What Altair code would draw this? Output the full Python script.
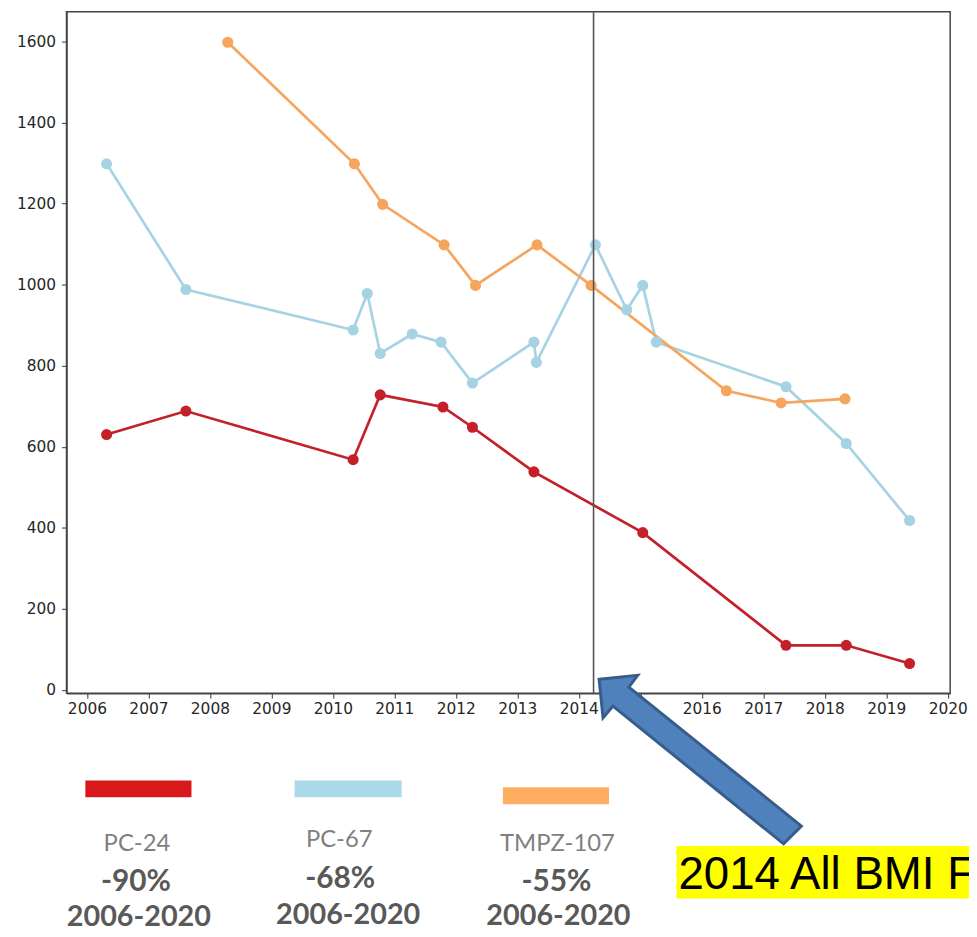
import altair as alt
import pandas as pd

# ---- data ----
pc24_year = [2006.32, 2007.61, 2010.33, 2010.77, 2011.79, 2012.27, 2013.27, 2015.04, 2017.37, 2018.35, 2019.38]
pc24_val = [630, 688, 568, 728, 698, 648, 538, 388, 110, 110, 65]

pc67_year = [2006.32, 2007.61, 2010.33, 2010.56, 2010.77, 2011.29, 2011.76, 2012.27, 2013.27, 2013.31,
             2014.27, 2014.78, 2015.04, 2015.26, 2017.37, 2018.35, 2019.38]
pc67_val = [1298, 988, 888, 978, 830, 878, 858, 757, 858, 808, 1098, 938, 998, 858, 748, 608, 418]

tmpz_year = [2008.29, 2010.35, 2010.81, 2011.81, 2012.32, 2013.32, 2014.20, 2016.40, 2017.29, 2018.33]
tmpz_val = [1598, 1298, 1198, 1098, 998, 1098, 998, 738, 708, 718]

series_names = ["PC-24", "PC-67", "TMPZ-107"]
series_pct = ["-90%", "-68%", "-55%"]
series_period = ["2006-2020", "2006-2020", "2006-2020"]
line_colors = ["#c4202a", "#a6d3e3", "#f5a55e"]
point_colors = ["#d7191c", "#abd9e9", "#fdae61"]

x_ticks = [2006 + 0.5 * i for i in range(29)]
x_hidden_label = 2015  # covered by the arrow in the reference
y_ticks = [0, 200, 400, 600, 800, 1000, 1200, 1400, 1600]
marker_year = 2014.24
annotation_text = "2014 All BMI F"

# ---- build tables ----
rows = []
for name, xs, ys in [("PC-24", pc24_year, pc24_val), ("PC-67", pc67_year, pc67_val), ("TMPZ-107", tmpz_year, tmpz_val)]:
    for i, (x, y) in enumerate(zip(xs, ys)):
        rows.append({"series": name, "year": x, "value": y, "order": i})
df = pd.DataFrame(rows)

W, H = 891, 687
xscale = alt.Scale(domain=[2005.668, 2020.04], nice=False, zero=False)
yscale = alt.Scale(domain=[-8, 1673], nice=False, zero=False)
color_scale = alt.Scale(domain=series_names, range=line_colors)
pcolor_scale = alt.Scale(domain=series_names, range=point_colors)

axis_style = dict(labelFont="DejaVu Sans", labelFontSize=15.5, labelColor="#262626",
                  tickColor="#333333", tickSize=5, tickWidth=1,
                  domainColor="#444444", domainWidth=1.5,
                  grid=False, title=None, labelOverlap=False, labelFlush=False)

x_enc = alt.X("year:Q", scale=xscale,
              axis=alt.Axis(values=x_ticks, labelPadding=4,
                            labelExpr=f"(datum.value % 1 == 0 && datum.value != {x_hidden_label}) ? format(datum.value, 'd') : ''",
                            **axis_style))
y_enc = alt.Y("value:Q", scale=yscale,
              axis=alt.Axis(values=y_ticks, format="d", labelPadding=6, **axis_style))

lines = alt.Chart(df).mark_line(strokeWidth=2.7).encode(
    x=x_enc, y=y_enc,
    color=alt.Color("series:N", scale=color_scale, legend=None),
    detail="series:N",
    order="order:Q",
)
points = alt.Chart(df).mark_point(filled=True, size=125, opacity=1).encode(
    x="year:Q", y="value:Q",
    color=alt.Color("series:N", scale=pcolor_scale, legend=None),
)

vline = alt.Chart(pd.DataFrame({"year": [marker_year]})).mark_rule(color="#555555", strokeWidth=1.6).encode(
    x="year:Q"
)

# ---- legend block under the plot (pixel positions relative to plot origin) ----
sw_x = [19, 230, 440]
sw_x2 = [126, 338, 547]
sw_y = [775, 775, 782]
name_pos = [(71, 839), (275, 835), (495, 839)]
pct_pos = [(70, 877), (276, 874), (494, 877)]
per_pos = [(73, 913), (284, 911), (496, 912)]

legend_layers = []
for i in range(3):
    legend_layers.append(
        alt.Chart(pd.DataFrame({"k": [0]})).mark_rect(color=point_colors[i]).encode(
            x=alt.value(sw_x[i]), x2=alt.value(sw_x2[i]), y=alt.value(sw_y[i]), y2=alt.value(sw_y[i] + 17)
        )
    )
    legend_layers.append(
        alt.Chart(pd.DataFrame({"t": [series_names[i]]})).mark_text(
            font="Lato", fontSize=24, color="#7f7f7f", align="center", baseline="middle"
        ).encode(x=alt.value(name_pos[i][0]), y=alt.value(name_pos[i][1]), text="t:N")
    )
    legend_layers.append(
        alt.Chart(pd.DataFrame({"t": [series_pct[i]]})).mark_text(
            font="Lato", fontSize=30, fontWeight="bold", color="#595959", align="center", baseline="middle"
        ).encode(x=alt.value(pct_pos[i][0]), y=alt.value(pct_pos[i][1]), text="t:N")
    )
    legend_layers.append(
        alt.Chart(pd.DataFrame({"t": [series_period[i]]})).mark_text(
            font="Lato", fontSize=29, fontWeight="bold", color="#595959", align="center", baseline="middle"
        ).encode(x=alt.value(per_pos[i][0]), y=alt.value(per_pos[i][1]), text="t:N")
    )

# ---- annotation: yellow box and block arrow ----
ybox = alt.Chart(pd.DataFrame({"k": [0]})).mark_rect(color="#ffff00").encode(
    x=alt.value(615), x2=alt.value(960), y=alt.value(841), y2=alt.value(894)
)
ytext = alt.Chart(pd.DataFrame({"t": [annotation_text]})).mark_text(
    font="Liberation Sans", fontSize=46, color="#000000", align="left", baseline="alphabetic"
).encode(x=alt.value(617), y=alt.value(884), text="t:N")

arrow_path = ("M -1 -0.794 L -0.618 -0.833 L -0.706 -0.716 L 1 0.657 L 0.824 0.833 "
              "L -0.863 -0.529 L -0.961 -0.412 Z")
arrow = alt.Chart(pd.DataFrame({"k": [0]})).mark_point(
    shape=arrow_path, filled=True, fill="#4f81bd", stroke="#385d8a", strokeWidth=3, opacity=1,
    fillOpacity=1, strokeOpacity=1, size=204 * 204
).encode(x=alt.value(639), y=alt.value(754))

chart = alt.layer(lines, points, vline, *legend_layers, ybox, ytext, arrow).properties(
    width=W, height=H,
    padding={"left": 59, "top": 0, "right": 19, "bottom": 238},
    autosize=alt.AutoSizeParams(type="none"),
    background="white",
).configure_view(
    stroke="#444444", strokeWidth=1.5
)

chart.save("out.html", embed_options={"renderer": "svg", "actions": False})
